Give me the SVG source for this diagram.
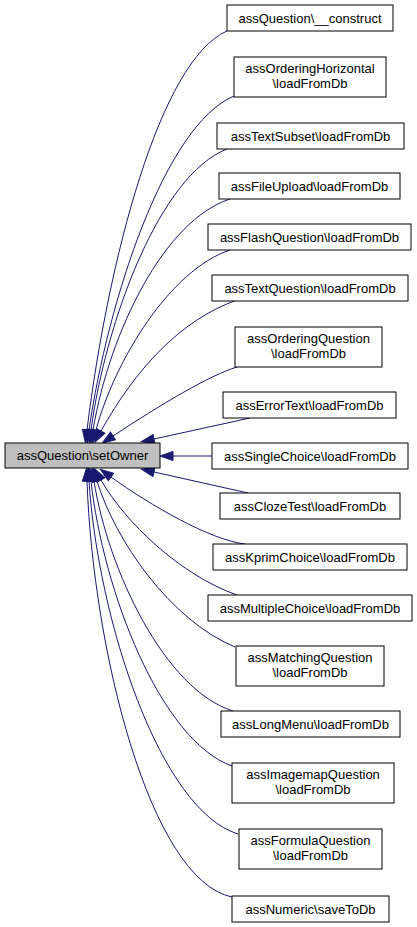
<svg xmlns="http://www.w3.org/2000/svg" width="417" height="927" viewBox="0 0 417 927">
<style>
  .node rect { fill: #ffffff; stroke: #000000; stroke-width: 1; }
  .node.main rect { fill: #bfbfbf; }
  .node text { font-family: "Liberation Sans", Arial, Helvetica, sans-serif; font-size: 13px; fill: #000000; text-anchor: middle; }
  .edges path { fill: none; stroke: #191970; stroke-width: 1; marker-end: url(#arrow); }
</style>
<defs>
  <marker id="arrow" viewBox="-1 -6 15 12" refX="0" refY="0" markerWidth="15" markerHeight="12" markerUnits="userSpaceOnUse" orient="auto">
    <path d="M0,-4.6 L13,0 L0,4.6 z" fill="#191970" stroke="#191970" stroke-width="1"/>
  </marker>
</defs>
<rect width="417" height="927" fill="#ffffff"/>
<g class="edges" id="edges">
  <path d="M227,31 C160,60 108,260 87,430"/>
  <path d="M234,96 C165,125 108,300 89,430"/>
  <path d="M227,149 C160,175 106,320 91,430"/>
  <path d="M230,199 C165,220 110,330 93,430"/>
  <path d="M230,250 C170,270 115,360 96,430"/>
  <path d="M237,300 C180,320 135,370 101,431"/>
  <path d="M237,367 C210,375 160,405 113,436"/>
  <path d="M250,418 L154,439"/>
  <path d="M212,456 L173,456"/>
  <path d="M248,493 L154,472"/>
  <path d="M245,544 C210,540 150,505 111,477"/>
  <path d="M237,595 C180,575 125,522 101,480"/>
  <path d="M235,647 C170,620 115,540 97,481"/>
  <path d="M233,711 C165,690 108,570 94,481"/>
  <path d="M232,766 C160,740 103,590 91,481"/>
  <path d="M238,834 C160,810 98,620 89,481"/>
  <path d="M232,897 C150,880 93,650 87,481"/>
</g>
<g class="node main" id="n_setOwner">
  <rect x="5" y="443" width="155" height="25"/>
  <text x="82.5" y="460">assQuestion\setOwner</text>
</g>
<g class="node" id="n_construct">
  <rect x="227" y="5" width="166" height="26"/>
  <text x="310" y="22.5">assQuestion\__construct</text>
</g>
<g class="node" id="n_orderingHorizontal">
  <rect x="234" y="57" width="152" height="40"/>
  <text x="310" y="72.5">assOrderingHorizontal</text>
  <text x="310" y="87.5">\loadFromDb</text>
</g>
<g class="node" id="n_textSubset">
  <rect x="217" y="123" width="187" height="26"/>
  <text x="310.5" y="140.5">assTextSubset\loadFromDb</text>
</g>
<g class="node" id="n_fileUpload">
  <rect x="219" y="173" width="181" height="26"/>
  <text x="309.5" y="190.5">assFileUpload\loadFromDb</text>
</g>
<g class="node" id="n_flashQuestion">
  <rect x="208" y="224" width="203" height="26"/>
  <text x="309.5" y="241.5">assFlashQuestion\loadFromDb</text>
</g>
<g class="node" id="n_textQuestion">
  <rect x="212" y="275" width="196" height="26"/>
  <text x="310" y="292.5">assTextQuestion\loadFromDb</text>
</g>
<g class="node" id="n_orderingQuestion">
  <rect x="235" y="327" width="147" height="40"/>
  <text x="308.5" y="342.5">assOrderingQuestion</text>
  <text x="308.5" y="357.5">\loadFromDb</text>
</g>
<g class="node" id="n_errorText">
  <rect x="223" y="392" width="173" height="26"/>
  <text x="309.5" y="409.5">assErrorText\loadFromDb</text>
</g>
<g class="node" id="n_singleChoice">
  <rect x="212" y="443" width="196" height="26"/>
  <text x="310" y="460.5">assSingleChoice\loadFromDb</text>
</g>
<g class="node" id="n_clozeTest">
  <rect x="220" y="493" width="180" height="26"/>
  <text x="310" y="510.5">assClozeTest\loadFromDb</text>
</g>
<g class="node" id="n_kprimChoice">
  <rect x="213" y="544" width="194" height="26"/>
  <text x="310" y="561.5">assKprimChoice\loadFromDb</text>
</g>
<g class="node" id="n_multipleChoice">
  <rect x="208" y="595" width="204" height="26"/>
  <text x="310" y="612.5">assMultipleChoice\loadFromDb</text>
</g>
<g class="node" id="n_matchingQuestion">
  <rect x="236" y="646" width="148" height="40"/>
  <text x="310" y="661.5">assMatchingQuestion</text>
  <text x="310" y="676.5">\loadFromDb</text>
</g>
<g class="node" id="n_longMenu">
  <rect x="221" y="711" width="179" height="26"/>
  <text x="310.5" y="728.5">assLongMenu\loadFromDb</text>
</g>
<g class="node" id="n_imagemapQuestion">
  <rect x="232" y="763" width="162" height="40"/>
  <text x="313" y="778.5">assImagemapQuestion</text>
  <text x="313" y="793.5">\loadFromDb</text>
</g>
<g class="node" id="n_formulaQuestion">
  <rect x="239" y="829" width="143" height="40"/>
  <text x="310.5" y="844.5">assFormulaQuestion</text>
  <text x="310.5" y="859.5">\loadFromDb</text>
</g>
<g class="node" id="n_numeric">
  <rect x="232" y="896" width="157" height="26"/>
  <text x="310.5" y="913.5">assNumeric\saveToDb</text>
</g>
</svg>
